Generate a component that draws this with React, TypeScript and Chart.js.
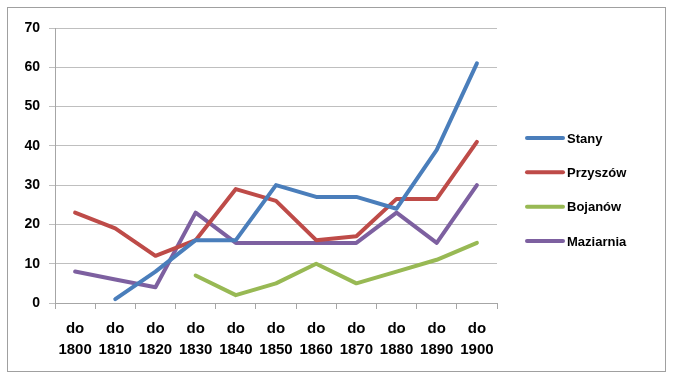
import React, { useEffect, useRef } from "react";
import { Chart, registerables } from "chart.js";

Chart.register(...registerables);

const categories: string[][] = [
  ["do", "1800"], ["do", "1810"], ["do", "1820"], ["do", "1830"], ["do", "1840"],
  ["do", "1850"], ["do", "1860"], ["do", "1870"], ["do", "1880"], ["do", "1890"], ["do", "1900"],
];
const stany = [null, 1, 8, 16, 16, 30, 27, 27, 24, 39, 61];
const przyszow = [23, 19, 12, 16, 29, 26, 16, 17, 26.5, 26.5, 41];
const bojanow = [null, null, null, 7, 2, 5, 10, 5, 8, 11, 15.3];
const maziarnia = [8, 6, 4, 23, 15.3, 15.3, 15.3, 15.3, 23, 15.3, 30];
const seriesNames = ["Stany", "Przyszów", "Bojanów", "Maziarnia"];
const seriesColors = ["#4A7EBB", "#BE4B48", "#98B954", "#7D60A0"];

const FONT = "'Liberation Sans', Arial, sans-serif";

const legendPlugin = {
  id: "customLegend",
  afterDraw(chart: any) {
    const ctx = chart.ctx;
    const ds = chart.data.datasets;
    const spacing = 34.3;
    const cy = chart.height / 2;
    const startY = cy - ((ds.length - 1) * spacing) / 2;
    ctx.save();
    ds.forEach((d: any, i: number) => {
      const y = startY + i * spacing;
      ctx.strokeStyle = d.borderColor;
      ctx.lineWidth = 4;
      ctx.lineCap = "round";
      ctx.beginPath();
      ctx.moveTo(519, y);
      ctx.lineTo(555, y);
      ctx.stroke();
      ctx.fillStyle = "#000";
      ctx.font = `bold 13px ${FONT}`;
      ctx.textBaseline = "middle";
      ctx.textAlign = "left";
      ctx.fillText(d.label, 559, y + 1);
    });
    ctx.restore();
  },
};

export default function App() {
  const ref = useRef<HTMLCanvasElement | null>(null);
  useEffect(() => {
    if (!ref.current) return;
    const values = [stany, przyszow, bojanow, maziarnia];
    const chart = new Chart(ref.current, {
      type: "line",
      data: {
        labels: categories,
        datasets: values.map((v, i) => ({
          label: seriesNames[i],
          data: v,
          borderColor: seriesColors[i],
          backgroundColor: seriesColors[i],
          borderWidth: 4,
          pointRadius: 0,
          tension: 0,
          spanGaps: false,
          borderJoinStyle: "round" as const,
          borderCapStyle: "round" as const,
        })),
      },
      options: {
        animation: false,
        responsive: false,
        maintainAspectRatio: false,
        layout: { padding: { left: 0, right: 168, top: 20, bottom: 0 } },
        plugins: { legend: { display: false }, tooltip: { enabled: false } },
        scales: {
          x: {
            offset: true,
            grid: {
              offset: true,
              drawOnChartArea: false,
              drawTicks: true,
              tickLength: 6,
              color: "#A6A6A6",
            },
            border: { display: true, color: "#A6A6A6" },
            ticks: {
              color: "#000",
              font: { family: FONT, size: 15, weight: "bold", lineHeight: 1.4 },
              padding: 9,
              maxRotation: 0,
              autoSkip: false,
            },
            afterFit: (s: any) => { s.height = 68; },
          },
          y: {
            min: 0,
            max: 70,
            ticks: {
              stepSize: 10,
              color: "#000",
              font: { family: FONT, size: 14, weight: "bold" },
              padding: 9,
            },
            grid: { color: "#BFBFBF", tickLength: 6, lineWidth: 1 },
            border: { display: true, color: "#A6A6A6" },
            afterFit: (s: any) => { s.width = 47; },
          },
        },
      },
      plugins: [legendPlugin],
    });
    return () => chart.destroy();
  }, []);
  return (
    <div
      style={{
        position: "absolute",
        left: 7,
        top: 7,
        width: 657,
        height: 363,
        border: "1px solid #A0A0A0",
        background: "#fff",
      }}
    >
      <canvas ref={ref} width={657} height={363} style={{ display: "block" }} />
    </div>
  );
}
